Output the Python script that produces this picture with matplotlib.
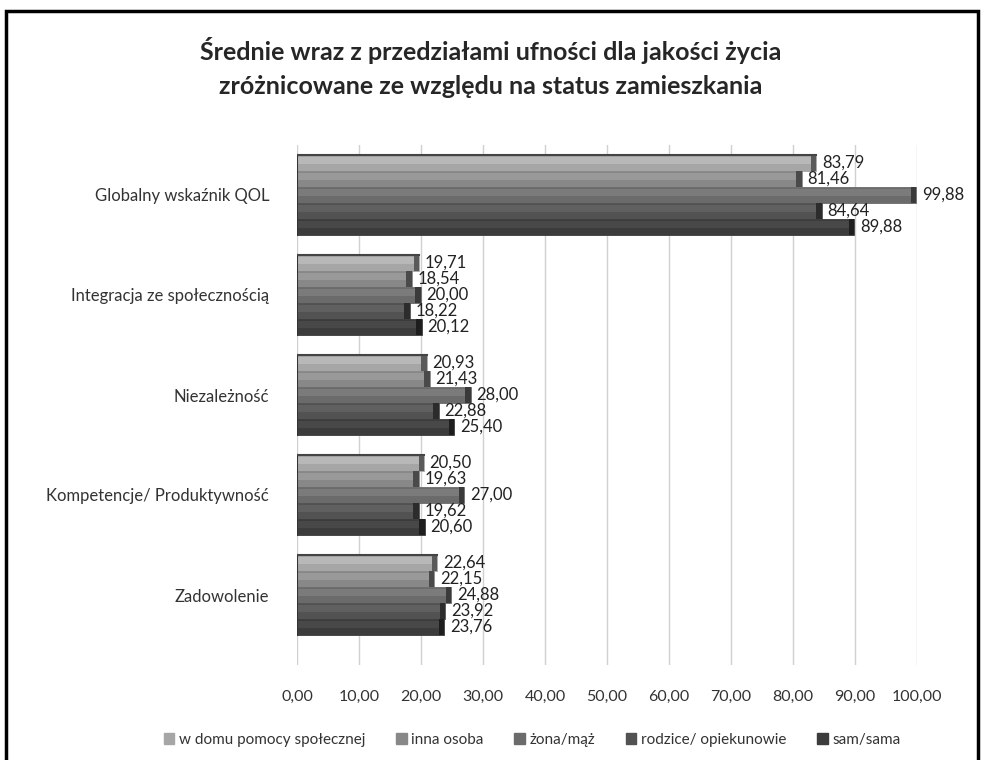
import matplotlib.pyplot as plt
import matplotlib.patches as mpatches
import numpy as np

plt.rcParams['font.family'] = ['Lato', 'DejaVu Sans']

categories = ['Globalny wskaźnik QOL', 'Integracja ze społecznością', 'Niezależność',
              'Kompetencje/ Produktywność', 'Zadowolenie']
series = ['w domu pomocy społecznej', 'inna osoba', 'żona/mąż',
          'rodzice/ opiekunowie', 'sam/sama']
values = [
    [83.79, 19.71, 20.93, 20.50, 22.64],   # w domu pomocy społecznej
    [81.46, 18.54, 21.43, 19.63, 22.15],   # inna osoba
    [99.88, 20.00, 28.00, 27.00, 24.88],   # żona/mąż
    [84.64, 18.22, 22.88, 19.62, 23.92],   # rodzice/ opiekunowie
    [89.88, 20.12, 25.40, 20.60, 23.76],   # sam/sama
]
ticks = np.arange(0, 101, 10)

colors = ['#a6a6a6', '#888888', '#6b6b6b', '#525252', '#3c3c3c']
light = ['#b8b8b8', '#999999', '#7b7b7b', '#606060', '#484848']
caps = ['#5a5a5a', '#4a4a4a', '#3a3a3a', '#2c2c2c', '#1e1e1e']

fig = plt.figure(figsize=(9.81, 7.6), dpi=100)
ax = fig.add_axes([297 / 981, 1 - 665 / 760, 620 / 981, 520 / 760])

h = 0.16
y = np.arange(len(categories))
for k, vals in enumerate(values):
    pos = y - 0.32 + h * k
    ax.barh(pos, vals, height=h, color=colors[k], edgecolor=colors[k], lw=0.6, zorder=3)
    # soft highlight stripe for the shaded 3D look
    ax.barh(pos - h * 0.15, vals, height=h * 0.4, color=light[k], edgecolor='none', zorder=3)
    # darker end cap
    ax.barh(pos, [0.9] * len(vals), left=np.array(vals) - 0.9, height=h,
            color=caps[k], edgecolor='none', zorder=4)
    for p, v in zip(pos, vals):
        ax.text(v + 0.9, p, f'{v:.2f}'.replace('.', ','), va='center', ha='left',
                fontsize=12, color='#222222', zorder=5)

# outline of each group block
for yi in y:
    ax.plot([0, 0], [yi - 0.4, yi + 0.4], color='#333333', lw=1.5, zorder=5)
    top_val = values[0][yi]
    ax.plot([0, top_val], [yi - 0.4, yi - 0.4], color='#444444', lw=1.5, zorder=5)

ax.set_xlim(0, 100)
ax.set_ylim(4.7, -0.5)
ax.set_xticks(ticks)
ax.set_xticklabels([f'{t:.2f}'.replace('.', ',') for t in ticks], fontsize=11.5, color='#333333')
ax.set_yticks(y)
ax.set_yticklabels(categories, fontsize=12, color='#333333')
ax.tick_params(length=0, pad=18)
ax.tick_params(axis='y', pad=20)
ax.xaxis.grid(True, color='#d0d0d0', lw=1, zorder=0)
for s in ax.spines.values():
    s.set_visible(False)

fig.text(0.5, 1 - 50 / 760, 'Średnie wraz z przedziałami ufności dla jakości życia',
         ha='center', va='center', fontsize=18, fontweight='bold', color='#262626')
fig.text(0.5, 1 - 87 / 760, 'zróżnicowane ze względu na status zamieszkania',
         ha='center', va='center', fontsize=18, fontweight='bold', color='#262626')

handles = [mpatches.Patch(color=c, label=s) for c, s in zip(colors, series)]
fig.legend(handles=handles, loc='center', bbox_to_anchor=(532 / 981, 1 - 740 / 760), ncol=5,
           frameon=False, fontsize=11, handlelength=0.7, handleheight=0.7,
           handletextpad=0.3, columnspacing=2.0, labelcolor='#333333')

fig.patches.append(mpatches.Rectangle((6 / 981, -0.01), 972 / 981, 1 - 11 / 760 + 0.01,
                                      transform=fig.transFigure, fill=False,
                                      edgecolor='black', lw=2.5))

fig.savefig('out.png', dpi=100)
